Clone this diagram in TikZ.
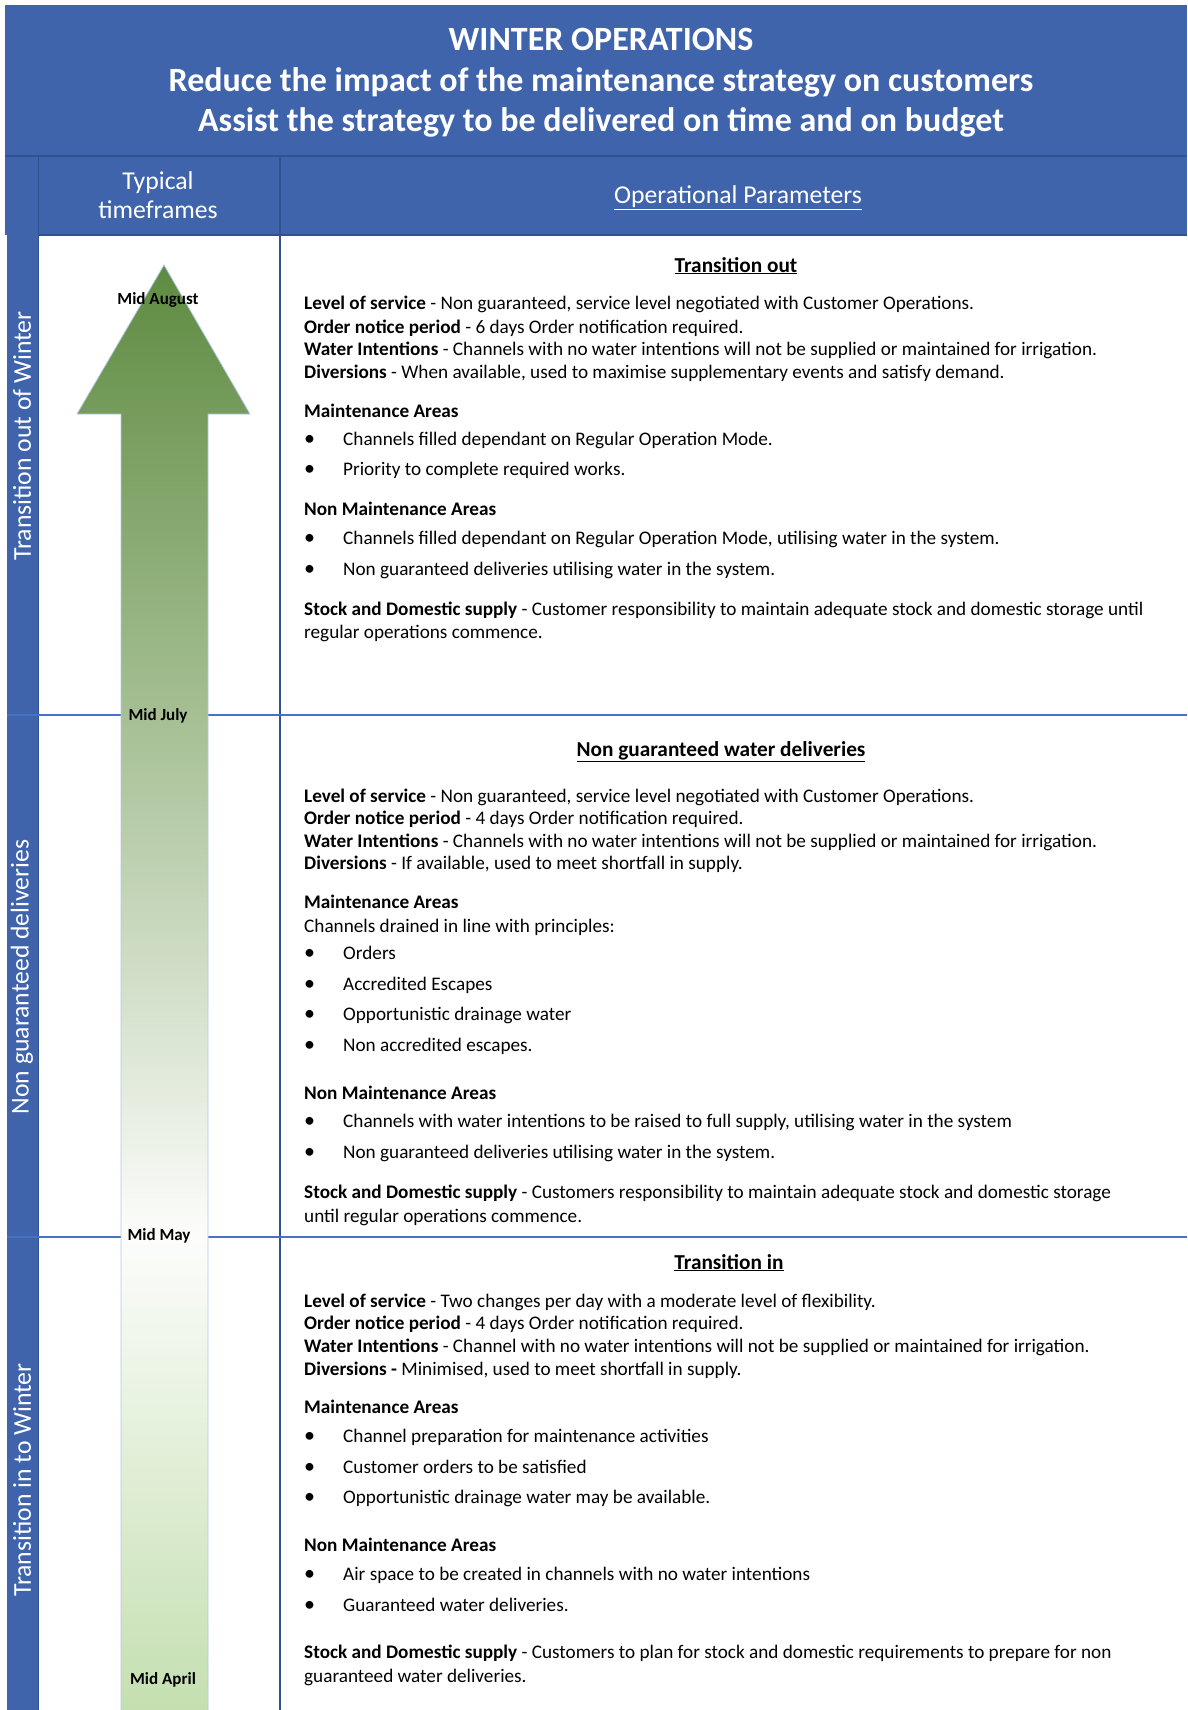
\documentclass[tikz,border=0pt]{standalone}
\usepackage{fontspec}
\setmainfont{Carlito}
\usetikzlibrary{positioning}
\definecolor{hdrblue}{HTML}{3F64AC}
\definecolor{ruleblue}{HTML}{2F5290}
\definecolor{secline}{HTML}{4472C4}
\definecolor{arrowedge}{HTML}{B4C7E7}
\definecolor{greentop}{HTML}{5E8B41}
\definecolor{greenmid}{HTML}{A5BF93}
\definecolor{greenlow}{HTML}{C4DFB0}
\definecolor{greenpale}{HTML}{FCFDFB}
% arrow shading: bottom (Mid April) -> white (Mid May) -> Mid July -> top
\pgfdeclareverticalshading{arrowfill}{100bp}{color(0bp)=(greenlow); color(25bp)=(greenlow); color(41.4bp)=(greenpale); color(59.5bp)=(greenmid); color(75bp)=(greentop); color(100bp)=(greentop)}
\newcommand{\bul}[1]{\makebox[39pt][l]{\raisebox{-0.5pt}{\fontsize{22}{22}\selectfont\textbullet}}#1}
\begin{document}
\begin{tikzpicture}[x=1pt,y=-1pt,
    txt/.style={anchor=base west,inner sep=0pt,font=\fontsize{19.2}{23}\selectfont},
    sectitle/.style={anchor=base,inner sep=0pt,font=\fontsize{21.3}{25}\selectfont\bfseries},
    datelbl/.style={inner sep=0pt,font=\fontsize{17}{20}\selectfont\bfseries},
    sidelbl/.style={rotate=90,text=white,inner sep=0pt,font=\fontsize{25.7}{30}\selectfont}]
    \def\W{1187}    %define picture width
    \def\H{1710}    %define picture height
    \def\C{280}     %define column divider
    \useasboundingbox (0,0) rectangle (\W,\H);
    % header and side strip
    \fill[hdrblue] (5,5) rectangle (\W,235);
    \fill[hdrblue] (7,235) rectangle (38,\H);
    \draw[ruleblue,line width=1.5pt] (5,156) -- (\W,156);
    \draw[ruleblue,line width=1.5pt] (38,235) -- (\W,235);
    \draw[ruleblue,line width=1pt] (38,156) -- (38,\H);
    \draw[ruleblue,line width=2pt] (\C,156) -- (\C,\H);
    \draw[secline,line width=1.5pt] (7,715) -- (\W,715);
    \draw[secline,line width=1.5pt] (7,1237) -- (\W,1237);
    \node[text=white,align=center,font=\fontsize{34}{40.5}\selectfont\bfseries] (title) at (601,83)
        {WINTER OPERATIONS\\Reduce the impact of the maintenance strategy on customers\\Assist the strategy to be delivered on time and on budget};
    \node[text=white,align=center,font=\fontsize{25.7}{29.5}\selectfont] (typ) at (158,195) {Typical\\timeframes};
    \node[text=white,font=\fontsize{25.7}{30}\selectfont] (oppar) at (738,198) {\underline{Operational Parameters}};
    \node[sidelbl] (sout) at (22,436) {Transition out of Winter};
    \node[sidelbl] (sng) at (22,977) {Non guaranteed deliveries};
    \node[sidelbl] (sin) at (22,1480) {Transition in to Winter};
    % timeframe arrow
    \shadedraw[shading=arrowfill,draw=arrowedge,line width=0.8pt]
        (121,\H) -- (121,414) -- (77,414) -- (164,265) -- (250,414) -- (208,414) -- (208,\H);
    \node[datelbl] (aug) at (158,300) {Mid August};
    \node[datelbl] (jul) at (158,716) {Mid July};
    \node[datelbl] (may) at (159,1236) {Mid May};
    \node[datelbl] (apr) at (163,1680) {Mid April};
    % transition out
    \node[sectitle] (tout) at (736,272) {\underline{Transition out}};
    \foreach \y/\t [count=\i] in {
        309/{\textbf{Level of service} - Non guaranteed, service level negotiated with Customer Operations.},
        333/{\textbf{Order notice period} - 6 days Order notification required.},
        355/{\textbf{Water Intentions} - Channels with no water intentions will not be supplied or maintained for irrigation.},
        378/{\textbf{Diversions} - When available, used to maximise supplementary events and satisfy demand.},
        417/{\textbf{Maintenance Areas}},
        445/{\bul{Channels filled dependant on Regular Operation Mode.}},
        475/{\bul{Priority to complete required works.}},
        515/{\textbf{Non Maintenance Areas}},
        544/{\bul{Channels filled dependant on Regular Operation Mode, utilising water in the system.}},
        575/{\bul{Non guaranteed deliveries utilising water in the system.}},
        615/{\textbf{Stock and Domestic supply} - Customer responsibility to maintain adequate stock and domestic storage until},
        638/{regular operations commence.}}
        \node[txt] (out\i) at (304,\y) {\t};
    % non guaranteed water deliveries
    \node[sectitle] (tngw) at (721,756) {\underline{Non guaranteed water deliveries}};
    \foreach \y/\t [count=\i] in {
        802/{\textbf{Level of service} - Non guaranteed, service level negotiated with Customer Operations.},
        824/{\textbf{Order notice period} - 4 days Order notification required.},
        847/{\textbf{Water Intentions} - Channels with no water intentions will not be supplied or maintained for irrigation.},
        869/{\textbf{Diversions} - If available, used to meet shortfall in supply.},
        908/{\textbf{Maintenance Areas}},
        932/{Channels drained in line with principles:},
        959/{\bul{Orders}},
        990/{\bul{Accredited Escapes}},
        1020/{\bul{Opportunistic drainage water}},
        1051/{\bul{Non accredited escapes.}},
        1099/{\textbf{Non Maintenance Areas}},
        1127/{\bul{Channels with water intentions to be raised to full supply, utilising water in the system}},
        1158/{\bul{Non guaranteed deliveries utilising water in the system.}},
        1198/{\textbf{Stock and Domestic supply} - Customers responsibility to maintain adequate stock and domestic storage},
        1222/{until regular operations commence.}}
        \node[txt] (ngw\i) at (304,\y) {\t};
    % transition in
    \node[sectitle] (tin) at (729,1269) {\underline{Transition in}};
    \foreach \y/\t [count=\i] in {
        1307/{\textbf{Level of service} - Two changes per day with a moderate level of flexibility.},
        1329/{\textbf{Order notice period} - 4 days Order notification required.},
        1352/{\textbf{Water Intentions} - Channel with no water intentions will not be supplied or maintained for irrigation.},
        1375/{\textbf{Diversions -} Minimised, used to meet shortfall in supply.},
        1413/{\textbf{Maintenance Areas}},
        1442/{\bul{Channel preparation for maintenance activities}},
        1473/{\bul{Customer orders to be satisfied}},
        1503/{\bul{Opportunistic drainage water may be available.}},
        1551/{\textbf{Non Maintenance Areas}},
        1580/{\bul{Air space to be created in channels with no water intentions}},
        1611/{\bul{Guaranteed water deliveries.}},
        1658/{\textbf{Stock and Domestic supply} - Customers to plan for stock and domestic requirements to prepare for non},
        1682/{guaranteed water deliveries.}}
        \node[txt] (tin\i) at (304,\y) {\t};
\end{tikzpicture}
\end{document}
